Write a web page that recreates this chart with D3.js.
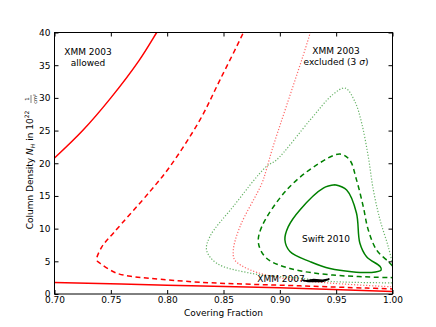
<!DOCTYPE html>
<html>
<head>
<meta charset="utf-8">
<script src="https://cdn.jsdelivr.net/npm/d3@7"></script>
<style>
  body { margin: 0; background: #fff; }
  text { font-family: "DejaVu Sans", sans-serif; fill: #000; }
</style>
</head>
<body>
<div id="chart"></div>
<script>
// curves: [covering fraction, N_H]
const xmm03Upper = [[0.700,20.8],[0.725,25.0],[0.750,30.0],[0.775,35.7],[0.7907,40.0],[0.796,41.5]];
const xmm03Lower = [[0.700,1.75],[0.80,1.35],[0.90,0.95],[1.00,0.4]];
const xmm03Dashed = [[0.870,41],[0.866,39.4],[0.847,32.8],[0.829,26.6],[0.8025,19.5],[0.7848,15.7],
  [0.7522,9.3],[0.742,7.2],[0.7375,5.2],[0.7404,4.7],[0.755,3.2],[0.770,2.65],[0.785,2.4],
  [0.829,1.8],[0.918,1.25],[0.977,0.9],[1.00,0.78]];
const xmm03Dotted = [[0.928,41],[0.9268,39.9],[0.893,22.0],[0.888,19.0],[0.884,16.9],[0.8646,10.3],
  [0.8587,6.7],[0.860,5.2],[0.8735,3.7],[0.903,2.4],[0.947,1.64],[1.00,1.1]];
const swiftDotted = [[1.00,4.6],[0.9963,7.2],[0.989,11.3],[0.983,15.9],[0.9785,21.0],[0.9727,26.1],
  [0.9667,29.4],[0.958,31.5],[0.947,30.5],[0.9268,26.6],[0.897,20.5],[0.888,19.5],[0.8587,13.4],
  [0.838,8.8],[0.835,6.7],[0.844,4.7],[0.8735,3.2],[0.918,2.4],[0.947,1.9],[1.00,1.7]];
const swiftDashed = [[1.00,4.3],[0.9963,4.95],[0.986,6.7],[0.9785,9.8],[0.974,13.4],[0.968,17.5],
  [0.962,20.5],[0.9534,21.4],[0.9327,19.75],[0.906,15.9],[0.884,10.3],[0.881,7.8],[0.888,5.5],
  [0.909,3.9],[0.947,2.9],[1.00,2.5]];
const swiftSolid = [[0.949,16.7],[0.9386,16.2],[0.918,12.9],[0.9075,10.3],[0.9045,8.3],[0.909,6.5],
  [0.9268,4.95],[0.9445,3.9],[0.9815,3.3],[0.990,3.7],[0.989,4.2],[0.977,5.7],[0.971,7.8],
  [0.968,12.4],[0.9593,15.9],[0.949,16.7]];
const xmm07 = [[0.922,2.0],[0.930,2.2],[0.938,2.1],[0.944,2.3],[0.938,1.9],[0.925,1.9],[0.920,2.15]];

const xTicks = [0.70,0.75,0.80,0.85,0.90,0.95,1.00];
const yTicks = [0,5,10,15,20,25,30,35,40];

const width = 436, height = 327;
const pL = 54.5, pR = 392.5, pT = 32.5, pB = 294;

const svg = d3.select("#chart").append("svg")
  .attr("width", width).attr("height", height);

const x = d3.scaleLinear().domain([0.70, 1.00]).range([pL, pR]);
const y = d3.scaleLinear().domain([0, 40]).range([pB, pT]);

svg.append("defs").append("clipPath").attr("id", "plotClip")
  .append("rect").attr("x", pL).attr("y", pT)
  .attr("width", pR - pL).attr("height", pB - pT);

const line = d3.line().x(d => x(d[0])).y(d => y(d[1])).curve(d3.curveCatmullRom.alpha(0.5));
const plot = svg.append("g").attr("clip-path", "url(#plotClip)");

function draw(data, color, dash, w, op){
  plot.append("path").datum(data)
    .attr("d", line)
    .attr("fill", "none")
    .attr("stroke", color)
    .attr("stroke-width", w)
    .attr("stroke-dasharray", dash)
    .attr("opacity", op);
}

draw(xmm03Upper, "#ff0000", null, 1.5, 1);
draw(xmm03Lower, "#ff0000", null, 1.5, 1);
draw(xmm03Dashed, "#ff0000", "5,3.5", 1.5, 1);
draw(xmm03Dotted, "#ff0000", "1.2,1.8", 1.2, 0.6);
draw(swiftDotted, "#008000", "1.2,1.8", 1.2, 0.6);
draw(swiftDashed, "#008000", "5,3.5", 1.5, 1);
draw(swiftSolid, "#008000", null, 1.5, 1);

plot.append("path").datum(xmm07)
  .attr("d", d3.line().x(d => x(d[0])).y(d => y(d[1])).curve(d3.curveLinearClosed))
  .attr("fill", "#000").attr("stroke", "#000").attr("stroke-width", 1.5);

// frame
svg.append("rect").attr("x", pL).attr("y", pT)
  .attr("width", pR - pL).attr("height", pB - pT)
  .attr("fill", "none").attr("stroke", "#000").attr("stroke-width", 1);

// axes: matplotlib style ticks pointing inward, mirrored
const xAxis = d3.axisBottom(x).tickValues(xTicks).tickFormat(d3.format(".2f")).tickSizeInner(-4).tickSizeOuter(0).tickPadding(3);
const yAxis = d3.axisLeft(y).tickValues(yTicks).tickFormat(d3.format("d")).tickSizeInner(-4).tickSizeOuter(0).tickPadding(4);

svg.append("g").attr("transform", `translate(0,${pB})`).call(xAxis);
svg.append("g").attr("transform", `translate(${pL},0)`).call(yAxis);
svg.append("g").attr("transform", `translate(0,${pT})`)
  .call(d3.axisTop(x).tickValues(xTicks).tickFormat("").tickSizeInner(-4).tickSizeOuter(0));
svg.append("g").attr("transform", `translate(${pR},0)`)
  .call(d3.axisRight(y).tickValues(yTicks).tickFormat("").tickSizeInner(-4).tickSizeOuter(0));

svg.selectAll(".domain").remove();
svg.selectAll(".tick line").attr("stroke", "#000");
svg.selectAll(".tick text").attr("font-size", 9).attr("font-family", "DejaVu Sans, sans-serif").attr("fill", "#000");

// axis labels
svg.append("text").attr("x", (pL + pR) / 2).attr("y", 316)
  .attr("text-anchor", "middle").attr("font-size", 9).text("Covering Fraction");

const yl = svg.append("text").attr("transform", "translate(33,170) rotate(-90)")
  .attr("text-anchor", "middle").attr("font-size", 9);
yl.append("tspan").text("Column Density ");
yl.append("tspan").attr("font-style", "italic").text("N");
yl.append("tspan").attr("font-style", "italic").attr("font-size", 6).attr("dy", 2).text("H");
yl.append("tspan").attr("dy", -2).text("  in 10");
yl.append("tspan").attr("font-size", 6).attr("dy", -4).text("22");
// 1/cm^2 fraction
const frac = svg.append("g").attr("transform", "translate(31,99) rotate(-90)");
frac.append("text").attr("x", 0).attr("y", -2).attr("text-anchor", "middle").attr("font-size", 5.5).text("1");
frac.append("line").attr("x1", -4).attr("x2", 4).attr("y1", 0).attr("y2", 0).attr("stroke", "#000").attr("stroke-width", 0.5);
frac.append("text").attr("x", 0).attr("y", 5.5).attr("text-anchor", "middle").attr("font-size", 5).text("cm²");

// annotations
function note(lines, cx, cy){
  const t = svg.append("text").attr("text-anchor", "middle").attr("font-size", 9);
  lines.forEach((s, i) => t.append("tspan").attr("x", cx).attr("y", cy + i * 11).text(s));
  return t;
}
note(["XMM 2003", "allowed"], 88, 55);
note(["XMM 2003"], 336, 54);
const ex = svg.append("text").attr("text-anchor", "middle").attr("font-size", 9).attr("x", 336).attr("y", 65);
ex.append("tspan").text("excluded (3 ");
ex.append("tspan").attr("font-style", "italic").text("σ");
ex.append("tspan").text(")");
note(["Swift 2010"], 326, 242);
note(["XMM 2007"], 281, 282);
</script>
</body>
</html>
